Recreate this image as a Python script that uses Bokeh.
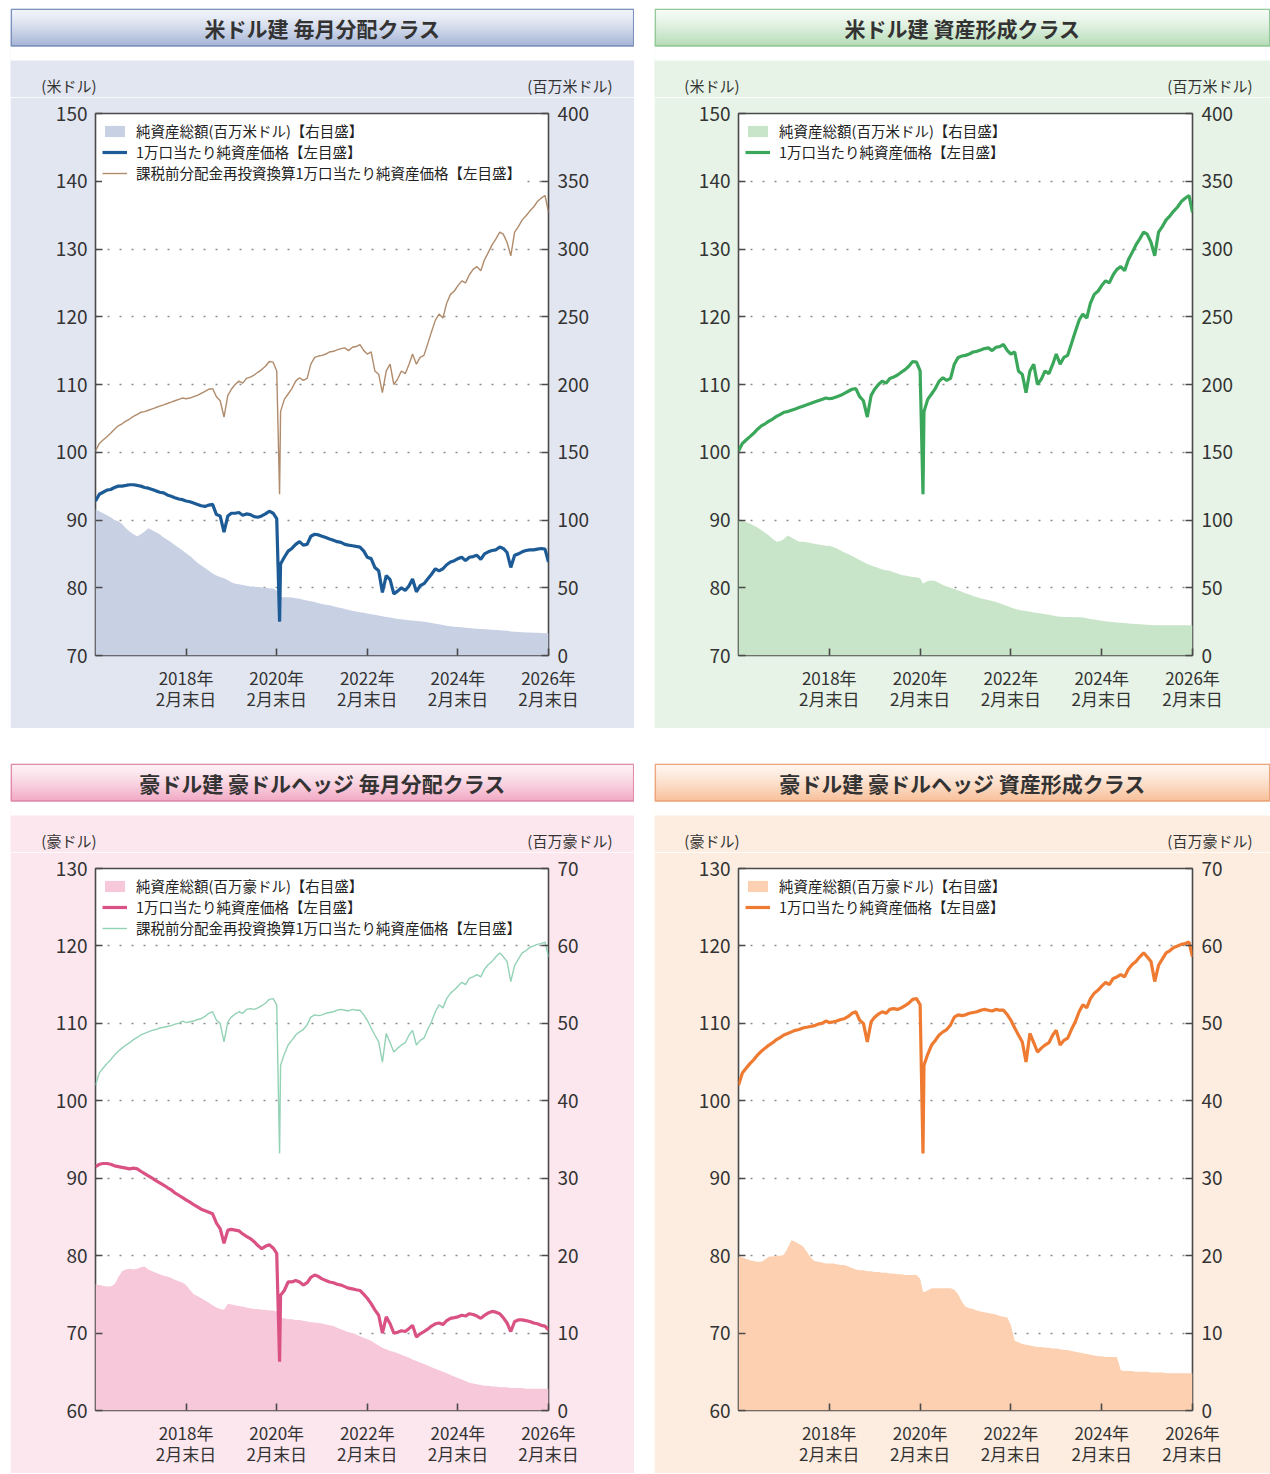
import numpy as np
import pandas as pd
from bokeh.plotting import figure
from bokeh.models import (ColumnDataSource, Range1d, LinearAxis, FixedTicker,
                          Legend, LegendItem, Spacer)
from bokeh.layouts import row, column
from bokeh.embed import file_html
from bokeh.resources import INLINE
from bokeh.core.properties import value

FONT = "Noto Sans CJK JP"

# ---------------- dates: month ends 2016-02 .. 2026-02, plus the 2020-03-23 low
try:
    month_ends = list(pd.date_range("2016-02-29", "2026-02-28", freq="ME"))
except ValueError:
    month_ends = list(pd.date_range("2016-02-29", "2026-02-28", freq="M"))
dates = sorted(month_ends + [pd.Timestamp("2020-03-23")])

tick_dates = ["2018-02-28", "2020-02-29", "2022-02-28", "2024-02-29", "2026-02-28"]
tick_labels = ["2018年\n2月末日", "2020年\n2月末日", "2022年\n2月末日",
               "2024年\n2月末日", "2026年\n2月末日"]

# ---------------- US dollar, monthly distribution class
usd_dist_nav = [
    92.8, 93.8, 94.1, 94.4, 94.5, 94.8, 95.0, 95.0, 95.1, 95.2, 95.2,
    95.1, 95.0, 94.8, 94.7, 94.5, 94.3, 94.1, 94.0, 93.7, 93.5, 93.3, 93.1,
    93.0, 92.8, 92.7, 92.5, 92.3, 92.1, 92.0, 92.2, 92.3, 90.8, 90.6, 88.2,
    90.6, 91.0, 91.0, 91.1, 90.7, 90.9, 90.8, 90.5, 90.4, 90.6, 90.9, 91.3,
    91.0, 90.2, 75.0, 83.5, 84.5, 85.4, 85.8, 86.4, 86.8, 86.3, 86.4, 87.6, 87.9,
    87.8, 87.6, 87.4, 87.2, 87.0, 86.8, 86.7, 86.4, 86.3, 86.2, 86.1, 86.0,
    85.4, 84.5, 84.3, 83.0, 82.5, 79.3, 81.8, 81.2, 79.1, 79.5, 80.0, 79.6,
    80.3, 81.3, 79.4, 80.3, 80.6, 81.3, 82.0, 82.8, 82.5, 82.8, 83.4, 83.8,
    84.0, 84.3, 84.5, 84.0, 84.5, 84.6, 84.8, 84.2, 85.0, 85.3, 85.5, 85.6,
    86.0, 85.8, 85.2, 83.0, 84.8, 85.0, 85.3, 85.5, 85.6, 85.6, 85.7, 85.8,
    85.7, 83.8,
]
usd_dist_reinvest = [
    100.2, 101.3, 101.8, 102.3, 102.8, 103.4, 103.9, 104.2, 104.6, 104.9, 105.3,
    105.6, 105.9, 106.0, 106.2, 106.4, 106.6, 106.8, 107.0, 107.2, 107.4, 107.6, 107.8,
    108.0, 107.9, 108.0, 108.2, 108.4, 108.7, 109.0, 109.3, 109.4, 108.2, 107.6, 105.2,
    108.4, 109.3, 110.0, 110.5, 110.2, 110.9, 111.1, 111.4, 111.8, 112.2, 112.7, 113.4,
    113.3, 112.0, 93.8, 106.0, 107.8, 108.6, 109.4, 110.5, 111.0, 110.6, 110.9, 113.0, 114.0,
    114.2, 114.3, 114.5, 114.8, 114.9, 115.1, 115.3, 115.4, 115.0, 115.5, 115.6, 115.9,
    115.0, 114.5, 114.8, 112.0, 111.5, 108.8, 112.0, 113.0, 110.0, 110.8, 112.0, 111.6,
    113.0, 114.5, 113.0, 114.0, 114.3, 116.0, 117.8, 119.5, 120.4, 119.8, 122.0, 123.3,
    123.8, 124.6, 125.3, 125.0, 126.2, 127.0, 127.4, 126.8, 128.4, 129.5, 130.6, 131.5,
    132.5, 132.2, 131.0, 129.0, 132.5, 133.3, 134.3, 134.9, 135.6, 136.2, 137.0, 137.5,
    137.9, 135.4,
]
usd_dist_assets = [
    108, 106.5, 105, 103.5, 102, 100, 99, 97, 94, 91.5, 89.5,
    88, 89.5, 91.5, 94, 92.5, 91, 89.5, 87, 85.5, 83.5, 81.5, 79.5,
    77.5, 75.5, 73.5, 71, 68.5, 66.5, 64.5, 62.5, 60.5, 59, 58, 57,
    55.5, 54, 53, 52.5, 52, 51.5, 51, 50.8, 50.5, 50.2, 50, 49.7,
    49.5, 48, 43.5, 43.2, 43, 43, 42.8, 42.3, 41.8, 41.2, 40.6, 40, 39.5,
    38.5, 38, 37.5, 37, 36.3, 35.6, 35, 34.3, 33.6, 33, 32.5, 32,
    31.5, 31, 30.5, 30, 29.5, 29, 28.5, 28, 27.5, 27, 26.7, 26.3,
    26, 25.8, 25.5, 25.2, 25, 24.5, 24, 23.5, 23, 22.5, 22, 21.5,
    21.2, 21, 20.8, 20.5, 20.3, 20, 19.8, 19.6, 19.4, 19.2, 19, 18.8,
    18.6, 18.4, 18.2, 17.8, 17.6, 17.4, 17.2, 17, 16.9, 16.8, 16.7, 16.6,
    16.5, 16.4,
]

# ---------------- US dollar, asset-building class
usd_grow_nav = list(usd_dist_reinvest)
usd_grow_assets = [
    100, 99.5, 98.5, 97.5, 96, 94.5, 92.5, 90.5, 88.5, 86, 84,
    84.5, 86, 88.5, 87, 85.5, 84, 84, 83.5, 83, 82.5, 82, 81.5,
    81, 81, 80, 79, 77.5, 76, 75, 73.5, 72, 70.5, 69, 67.6,
    66.5, 65.5, 64.5, 63.5, 63, 62.5, 61.5, 60.5, 59.5, 59, 58.5, 58,
    57.8, 57, 53, 53.5, 55, 55.4, 55, 53.5, 52, 51, 50, 49, 48,
    47, 46, 45, 44, 43, 42.3, 41.6, 41, 40.3, 39.5, 38.5, 37.5,
    36.5, 35.5, 34.5, 33.7, 33.3, 32.8, 32.3, 31.8, 31.3, 31, 30.5, 30,
    29.5, 29, 28.6, 28.4, 28.4, 28.4, 28.3, 28.2, 28, 27.5, 27, 26.5,
    26, 25.6, 25.3, 25, 24.7, 24.4, 24.1, 23.9, 23.7, 23.5, 23.3, 23.1,
    22.9, 22.7, 22.5, 22.4, 22.3, 22.3, 22.3, 22.3, 22.3, 22.3, 22.3, 22.3,
    22.3, 22.3,
]

# ---------------- Australian dollar (hedged), monthly distribution class
aud_dist_nav = [
    91.5, 91.8, 91.9, 91.9, 91.8, 91.6, 91.5, 91.4, 91.3, 91.2, 91.3,
    91.2, 90.9, 90.6, 90.3, 90.0, 89.7, 89.4, 89.1, 88.8, 88.5, 88.1, 87.8,
    87.5, 87.2, 86.9, 86.6, 86.3, 86.0, 85.8, 85.6, 85.4, 84.2, 83.5, 81.6,
    83.3, 83.4, 83.3, 83.2, 82.8, 82.5, 82.2, 81.8, 81.3, 80.9, 81.2, 81.4,
    81.0, 80.3, 66.3, 74.9, 75.5, 76.6, 76.6, 76.8, 76.6, 76.2, 76.5, 77.2, 77.5,
    77.3, 77.0, 76.8, 76.6, 76.5, 76.3, 76.2, 76.0, 75.8, 75.7, 75.6, 75.5,
    75.0, 74.5, 73.8, 73.0, 72.3, 70.0, 72.1, 71.2, 70.0, 70.1, 70.3, 70.2,
    70.6, 71.0, 69.5, 69.9, 70.2, 70.5, 70.9, 71.2, 71.3, 71.1, 71.6, 71.9,
    72.0, 72.1, 72.3, 72.2, 72.5, 72.4, 72.2, 71.9, 72.3, 72.6, 72.8, 72.7,
    72.5, 72.0, 71.3, 70.2, 71.5, 71.7, 71.7, 71.6, 71.5, 71.3, 71.2, 71.0,
    70.9, 70.4,
]
aud_dist_reinvest = [
    102.0, 103.6, 104.2, 104.8, 105.3, 105.9, 106.4, 106.8, 107.2, 107.5, 107.9,
    108.2, 108.5, 108.7, 108.9, 109.1, 109.2, 109.4, 109.5, 109.6, 109.7, 109.9, 110.0,
    110.3, 110.1, 110.2, 110.3, 110.5, 110.6, 110.9, 111.3, 111.5, 110.4, 110.0, 107.6,
    110.2, 110.8, 111.2, 111.5, 111.3, 111.8, 111.9, 111.8, 112.0, 112.3, 112.6, 113.1,
    113.2, 112.4, 93.2, 104.6, 106.0, 107.2, 107.8, 108.5, 108.9, 109.2, 109.8, 110.8, 111.1,
    111.0, 111.1, 111.3, 111.4, 111.5, 111.7, 111.8, 111.7, 111.6, 111.8, 111.7, 111.7,
    111.1, 110.4, 109.4, 108.5, 107.6, 105.0, 108.7, 107.5, 106.3, 106.8, 107.2, 107.5,
    108.5, 109.1, 107.2, 107.8, 108.1, 109.2, 110.2, 111.5, 112.4, 112.0, 113.2, 113.9,
    114.3, 114.8, 115.3, 115.0, 115.8, 116.0, 116.3, 116.0, 117.0, 117.6, 118.0, 118.6,
    119.1, 118.6, 118.0, 115.4, 117.5, 118.3, 119.1, 119.4, 119.8, 120.0, 120.2, 120.3,
    120.5, 118.6,
]
aud_dist_assets = [
    16.3, 16.2, 16.1, 16.0, 16.0, 16.3, 17.2, 18.0, 18.2, 18.3, 18.2,
    18.3, 18.5, 18.6, 18.2, 18.0, 17.8, 17.6, 17.4, 17.3, 17.1, 16.9, 16.7,
    16.5, 16.2, 15.6, 15.0, 14.8, 14.5, 14.2, 13.9, 13.6, 13.3, 13.1, 13.0,
    13.8, 13.7, 13.6, 13.5, 13.4, 13.3, 13.2, 13.1, 13.1, 13.0, 13.0, 12.9,
    12.9, 12.8, 12.0, 11.9, 11.9, 11.8, 11.8, 11.7, 11.7, 11.6, 11.5, 11.4, 11.35,
    11.3, 11.25, 11.1, 11.0, 10.9, 10.7, 10.5, 10.3, 10.1, 10.0, 9.8, 9.6,
    9.4, 9.2, 9.0, 8.7, 8.4, 8.1, 7.9, 7.7, 7.6, 7.4, 7.2, 7.0,
    6.8, 6.6, 6.4, 6.2, 6.0, 5.8, 5.6, 5.4, 5.2, 5.0, 4.8, 4.6,
    4.4, 4.2, 4.0, 3.8, 3.6, 3.5, 3.4, 3.3, 3.2, 3.2, 3.1, 3.1,
    3.0, 3.0, 3.0, 2.9, 2.9, 2.9, 2.9, 2.8, 2.8, 2.8, 2.8, 2.8,
    2.8, 2.8,
]

# ---------------- Australian dollar (hedged), asset-building class
aud_grow_nav = list(aud_dist_reinvest)
aud_grow_assets = [
    19.9, 19.8, 19.6, 19.4, 19.3, 19.2, 19.2, 19.5, 19.9, 19.9, 20.0,
    20.0, 20.1, 21.0, 22.0, 21.8, 21.5, 21.2, 20.5, 19.8, 19.3, 19.2, 19.1,
    19.0, 19.0, 19.0, 18.9, 18.8, 18.8, 18.6, 18.4, 18.2, 18.1, 18.1, 18.0,
    18.0, 17.9, 17.9, 17.8, 17.8, 17.7, 17.7, 17.6, 17.6, 17.5, 17.5, 17.5,
    17.5, 17.0, 15.3, 15.3, 15.5, 15.8, 15.8, 15.8, 15.8, 15.8, 15.8, 15.6, 15.0,
    14.0, 13.4, 13.2, 13.1, 12.9, 12.8, 12.7, 12.6, 12.5, 12.4, 12.2, 12.1,
    12.0, 11.0, 9.0, 8.8, 8.6, 8.5, 8.4, 8.3, 8.2, 8.2, 8.1, 8.1,
    8.0, 8.0, 7.9, 7.8, 7.8, 7.7, 7.6, 7.5, 7.4, 7.3, 7.2, 7.1,
    7.0, 7.0, 6.9, 6.9, 6.9, 6.9, 5.2, 5.1, 5.1, 5.1, 5.0, 5.0,
    5.0, 5.0, 4.9, 4.9, 4.9, 4.9, 4.8, 4.8, 4.8, 4.8, 4.8, 4.8,
    4.8, 4.8,
]

for arr in (usd_dist_nav, usd_dist_reinvest, usd_dist_assets, usd_grow_assets,
            aud_dist_nav, aud_dist_reinvest, aud_dist_assets, aud_grow_assets):
    assert len(arr) == len(dates), len(arr)

LEG_AREA_USD = "純資産総額(百万米ドル)【右目盛】"
LEG_AREA_AUD = "純資産総額(百万豪ドル)【右目盛】"
LEG_NAV = "1万口当たり純資産価格【左目盛】"
LEG_RE = "課税前分配金再投資換算1万口当たり純資産価格【左目盛】"

X_START = pd.Timestamp("2016-02-29")
X_END = pd.Timestamp("2026-02-28")
tick_ms = [float(pd.Timestamp(d).value // 10**6) for d in tick_dates]

BAR_H = 38          # title bar
GAP_H = 14          # white gap under the title bar
TOP_BORDER = 16     # chart border above the frame
PANEL_STRIP = 53 - TOP_BORDER   # coloured panel part drawn in the header
HEAD_H = BAR_H + GAP_H + PANEL_STRIP


def hex_to_rgb(h):
    h = h.lstrip("#")
    return np.array([int(h[i:i + 2], 16) for i in (0, 2, 4)], dtype=float)


def header(text, unit_l, unit_r, w, bl, fw, r_off, top_col, bot_col, border_col, panel_bg):
    p = figure(width=w, height=HEAD_H, frame_width=w, frame_height=HEAD_H,
               x_range=Range1d(0, w), y_range=Range1d(0, HEAD_H),
               output_backend="svg", toolbar_location=None,
               x_axis_location=None, y_axis_location=None, min_border=0,
               border_fill_color=panel_bg, background_fill_color=panel_bg,
               outline_line_color=None)
    p.grid.visible = False
    # white gap between the title bar and the coloured panel
    p.quad(left=-2, right=w + 2, bottom=PANEL_STRIP, top=HEAD_H + 2,
           fill_color="white", line_color=None)
    # gradient title bar
    n = 19
    c0, c1 = hex_to_rgb(top_col), hex_to_rgb(bot_col)
    y_top = HEAD_H
    y_bot = HEAD_H - BAR_H
    edges = np.linspace(y_top, y_bot, n + 1)
    cols = []
    for i in range(n):
        t = (i / (n - 1)) ** 1.3
        c = c0 + (c1 - c0) * t
        cols.append("#%02x%02x%02x" % tuple(int(round(v)) for v in c))
    p.quad(left=0, right=w, top=edges[:-1], bottom=edges[1:], fill_color=cols,
           line_color=cols, line_width=0.5)
    p.quad(left=0.8, right=w - 0.8, top=y_top - 0.8, bottom=y_bot + 0.8,
           fill_color=None, line_color=border_col, line_width=1.5)
    p.text(x=[w / 2], y=[(y_top + y_bot) / 2], text=[text], text_align="center",
           text_baseline="middle", text_font=value(FONT), text_font_size="21px",
           text_font_style="bold", text_color="#333333")
    # axis unit captions
    p.text(x=[bl + 1, bl + fw + r_off], y=[12, 12], text=[unit_l, unit_r],
           text_align="right", text_baseline="middle", text_font=value(FONT),
           text_font_size="15px", text_color="#333333")
    return row(p)


def chart(left_lim, left_ticks, right_lim, right_ticks, bg,
          area_vals, area_col, area_label, nav_vals, nav_col, re_vals, re_col,
          fw, bl, br, bb):
    p = figure(frame_width=fw, frame_height=542, x_axis_type="datetime",
               x_range=Range1d(X_START, X_END), y_range=Range1d(*left_lim),
               output_backend="svg", toolbar_location=None,
               min_border_left=bl, min_border_right=br, min_border_top=TOP_BORDER,
               min_border_bottom=bb, border_fill_color=bg,
               background_fill_color="white", outline_line_color="#4a4a4a",
               outline_line_width=1.6, y_axis_location="left")
    p.extra_y_ranges = {"right": Range1d(*right_lim)}

    src = ColumnDataSource(dict(date=dates, area=area_vals, nav=nav_vals,
                                re=re_vals if re_vals is not None else nav_vals))

    r_area = p.varea(x="date", y1=0, y2="area", source=src, fill_color=area_col,
                     y_range_name="right")
    items = [LegendItem(label=area_label, renderers=[r_area])]
    r_nav = p.line(x="date", y="nav", source=src, line_color=nav_col, line_width=3.2)
    items.append(LegendItem(label=LEG_NAV, renderers=[r_nav]))
    if re_vals is not None:
        r_re = p.line(x="date", y="re", source=src, line_color=re_col, line_width=1.4)
        items.append(LegendItem(label=LEG_RE, renderers=[r_re]))

    for ax in p.yaxis:
        ax.ticker = FixedTicker(ticks=left_ticks)
    r_ax = LinearAxis(y_range_name="right", ticker=FixedTicker(ticks=right_ticks))
    p.add_layout(r_ax, "right")

    xa = p.xaxis[0]
    xa.ticker = FixedTicker(ticks=tick_ms)
    xa.major_label_overrides = {t: lab for t, lab in zip(tick_ms, tick_labels)}
    xa.major_label_standoff = 9

    for ax in p.axis:
        ax.axis_line_color = None
        ax.major_tick_in = 7
        ax.major_tick_out = 0
        ax.major_tick_line_color = "#4a4a4a"
        ax.major_tick_line_width = 1.6
        ax.minor_tick_line_color = None
        ax.major_label_text_font = FONT
        ax.major_label_text_font_size = "19px"
        ax.major_label_text_color = "#333333"
    xa.major_label_text_font_size = "17px"
    xa.major_label_text_line_height = 0.85
    p.yaxis[0].major_label_standoff = 8
    r_ax.major_label_standoff = 9

    p.xgrid.visible = False
    p.ygrid.grid_line_color = "#8c8c8c"
    p.ygrid.grid_line_dash = "2 10"
    p.ygrid.grid_line_width = 1.3

    leg = Legend(items=items, location="top_left", label_text_font=FONT,
                 label_text_font_size="14.5px", label_text_color="#222222",
                 glyph_width=25, glyph_height=14, label_height=20, label_standoff=9,
                 spacing=0, padding=3, margin=7, border_line_color=None,
                 background_fill_color="white", background_fill_alpha=1.0)
    p.add_layout(leg)
    return p


usd_left_ticks = [70, 80, 90, 100, 110, 120, 130, 140, 150]
usd_right_ticks = [0, 50, 100, 150, 200, 250, 300, 350, 400]
aud_left_ticks = [60, 70, 80, 90, 100, 110, 120, 130]
aud_right_ticks = [0, 10, 20, 30, 40, 50, 60, 70]

BG1, BG2, BG3, BG4 = "#e2e6f1", "#e6f3e6", "#fce7ef", "#fdede0"

h1 = header("米ドル建 毎月分配クラス", "(米ドル)", "(百万米ドル)", 624, 85, 453, 64,
            "#f2f4fa", "#a3b3d4", "#7d92bd", BG1)
h2 = header("米ドル建 資産形成クラス", "(米ドル)", "(百万米ドル)", 616, 84, 454, 60,
            "#f6fbf6", "#b3dbb5", "#96c99a", BG2)
h3 = header("豪ドル建 豪ドルヘッジ 毎月分配クラス", "(豪ドル)", "(百万豪ドル)", 624, 85, 453, 64,
            "#fdf1f5", "#f1a8c3", "#e08cad", BG3)
h4 = header("豪ドル建 豪ドルヘッジ 資産形成クラス", "(豪ドル)", "(百万豪ドル)", 616, 84, 454, 60,
            "#fff5ee", "#f7bf98", "#eca57c", BG4)

c1 = chart((70, 150), usd_left_ticks, (0, 400), usd_right_ticks, BG1,
           usd_dist_assets, "#c8d0e3", LEG_AREA_USD,
           usd_dist_nav, "#1d5b97", usd_dist_reinvest, "#b08b6c", 453, 85, 86, 73)
c2 = chart((70, 150), usd_left_ticks, (0, 400), usd_right_ticks, BG2,
           usd_grow_assets, "#c9e5c9", LEG_AREA_USD,
           usd_grow_nav, "#3ba75b", None, None, 454, 84, 78, 73)
c3 = chart((60, 130), aud_left_ticks, (0, 70), aud_right_ticks, BG3,
           aud_dist_assets, "#f7c8d9", LEG_AREA_AUD,
           aud_dist_nav, "#da5283", aud_dist_reinvest, "#93d2b5", 453, 85, 86, 63)
c4 = chart((60, 130), aud_left_ticks, (0, 70), aud_right_ticks, BG4,
           aud_grow_assets, "#fcd0b0", LEG_AREA_AUD,
           aud_grow_nav, "#ee7b31", None, None, 454, 84, 78, 63)

left = column(h1, c1, Spacer(height=35), h3, c3)
right = column(h2, c2, Spacer(height=35), h4, c4)
page = column(Spacer(height=8),
              row(Spacer(width=10), left, Spacer(width=20), right))

open("out.html", "w").write(file_html(page, INLINE))
